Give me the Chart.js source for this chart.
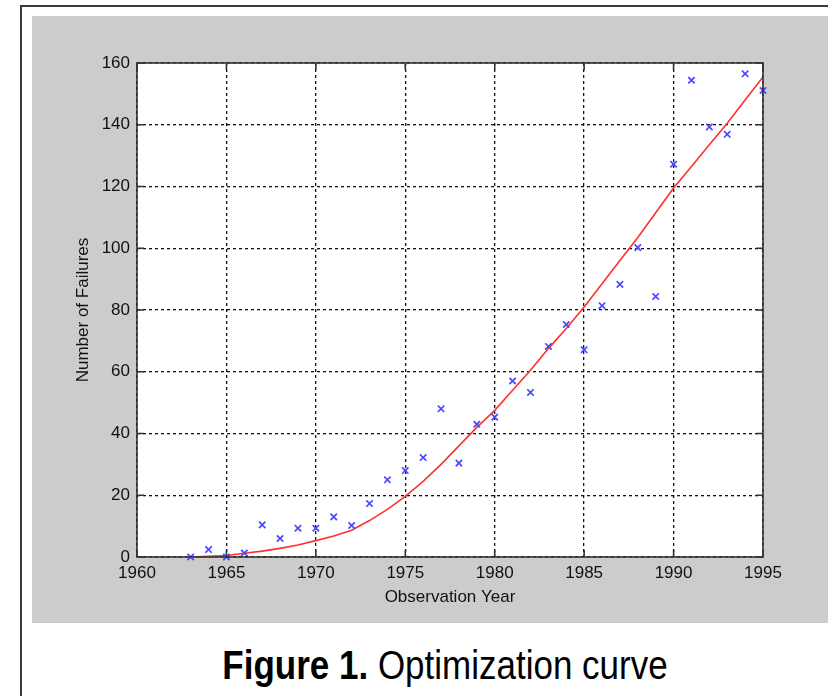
<!DOCTYPE html>
<html>
<head>
    <meta charset="UTF-8">
    <title>Optimization curve</title>
    <script src="https://cdn.jsdelivr.net/npm/chart.js"></script>
    <style>
        body { margin: 0; background: #fff; width: 828px; height: 696px; overflow: hidden; position: relative; }
        #frame { position: absolute; left: 20px; top: 5px; width: 900px; height: 800px; border: 2px solid #3a3a3a; }
        #panel { position: absolute; left: 32px; top: 16px; width: 796px; height: 607px; background: #cccccc; }
        #caption { position: absolute; left: 32px; top: 645px; width: 826px; text-align: center;
                   font-family: "Liberation Sans", Arial, sans-serif; font-size: 35px; color: #000;
                   transform: scaleY(1.15); }
        #caption b { font-weight: bold; }
    </style>
</head>
<body>
    <div id="frame"></div>
    <div id="panel"><canvas id="myChart" width="796" height="607"></canvas></div>
    <div id="caption"><b>Figure 1.</b> Optimization curve</div>

    <script>
    // observed failures per year (blue crosses)
    const years = [1963, 1964, 1965, 1966, 1967, 1968, 1969, 1970, 1971, 1972, 1973,
                   1974, 1975, 1976, 1977, 1978, 1979, 1980, 1981, 1982, 1983, 1984,
                   1985, 1986, 1987, 1988, 1989, 1990, 1991, 1992, 1993, 1994, 1995];
    const failures = [0, 2.4, 0, 1.3, 10.4, 6, 9.3, 9.3, 13, 10.2, 17.3,
                      25, 28, 32.2, 48, 30.4, 43, 45.3, 57, 53.3, 68.2, 75.3,
                      67.1, 81.4, 88.3, 100.2, 84.4, 127.2, 154.4, 139.3, 136.9, 156.5, 151.1];
    // fitted curve (red line)
    const fitted = [0, 0.2, 0.5, 1.2, 1.9, 2.8, 3.9, 5.3, 6.8, 8.7, 11.8,
                    15.4, 19.6, 24.5, 30, 36, 42, 47.5, 54, 60.5, 67.5, 74,
                    81, 88.5, 96, 103.5, 111.5, 119.5, 126.5, 133.5, 140.5, 148, 155.5];
    const xTicks = [1960, 1965, 1970, 1975, 1980, 1985, 1990, 1995];
    const yTicks = [0, 20, 40, 60, 80, 100, 120, 140, 160];

    const fontFam = '"Liberation Sans", Arial, sans-serif';

    // white plot area + frame with inward tick marks
    const framePlugin = {
        id: 'frame',
        beforeDraw(chart) {
            const a = chart.chartArea, c = chart.ctx;
            c.save();
            c.fillStyle = '#ffffff';
            c.fillRect(a.left, a.top, a.right - a.left, a.bottom - a.top);
            c.restore();
        },
        afterDraw(chart) {
            const a = chart.chartArea, c = chart.ctx;
            const sx = chart.scales.x, sy = chart.scales.y;
            c.save();
            c.strokeStyle = '#333333';
            c.lineWidth = 1.6;
            c.strokeRect(a.left, a.top, a.right - a.left, a.bottom - a.top);
            c.beginPath();
            xTicks.forEach(v => {
                const px = sx.getPixelForValue(v);
                c.moveTo(px, a.bottom); c.lineTo(px, a.bottom - 7);
                c.moveTo(px, a.top); c.lineTo(px, a.top + 7);
            });
            yTicks.forEach(v => {
                const py = sy.getPixelForValue(v);
                c.moveTo(a.left, py); c.lineTo(a.left + 7, py);
                c.moveTo(a.right, py); c.lineTo(a.right - 7, py);
            });
            c.stroke();
            c.restore();
        }
    };

    const ctx = document.getElementById('myChart').getContext('2d');
    const chart = new Chart(ctx, {
        type: 'scatter',
        data: {
            datasets: [{
                label: 'Fitted',
                data: years.map((y, i) => ({x: y, y: fitted[i]})),
                showLine: true,
                borderColor: '#ff3030',
                borderWidth: 1.6,
                pointRadius: 0,
                tension: 0,
                order: 2
            }, {
                label: 'Observed',
                data: years.map((y, i) => ({x: y, y: failures[i]})),
                pointStyle: 'crossRot',
                pointRadius: 4.5,
                borderColor: '#4848ff',
                borderWidth: 1.7,
                clip: false,
                order: 1
            }]
        },
        options: {
            responsive: false,
            animation: false,
            plugins: { legend: { display: false }, tooltip: { enabled: false } },
            layout: { padding: { left: 0, top: 47, right: 65, bottom: 0 } },
            scales: {
                x: {
                    type: 'linear', min: 1960, max: 1995,
                    afterBuildTicks: s => { s.ticks = xTicks.map(v => ({value: v})); },
                    afterFit: s => { s.height = 66; },
                    ticks: { padding: 6, color: '#111', font: { family: fontFam, size: 17 },
                             callback: v => String(v), maxRotation: 0 },
                    grid: { color: '#111', lineWidth: 1.3, drawTicks: false },
                    border: { display: false, dash: [3, 3] },
                    title: { display: true, text: 'Observation Year', color: '#111',
                             font: { family: fontFam, size: 17 }, padding: { top: 0, bottom: 15 } }
                },
                y: {
                    type: 'linear', min: 0, max: 160,
                    afterBuildTicks: s => { s.ticks = yTicks.map(v => ({value: v})); },
                    afterFit: s => { s.width = 105; },
                    ticks: { padding: 7, color: '#111', font: { family: fontFam, size: 17 },
                             callback: v => String(v) },
                    grid: { color: '#111', lineWidth: 1.3, drawTicks: false },
                    border: { display: false, dash: [3, 3] },
                    title: { display: true, text: 'Number of Failures', color: '#111',
                             font: { family: fontFam, size: 17 }, padding: { top: 41, bottom: 0 } }
                }
            }
        },
        plugins: [framePlugin]
    });
    </script>
</body>
</html>
